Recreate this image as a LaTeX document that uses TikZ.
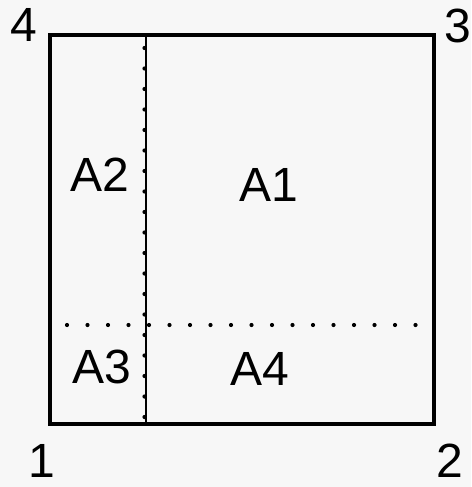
\documentclass[tikz,border=0pt]{standalone}
\usepackage{fontspec}
\setmainfont{Liberation Sans}
\begin{document}
\begin{tikzpicture}[x=1pt,y=-1pt,
  lbl/.style={inner sep=0pt,font=\fontsize{48}{50}\selectfont},
  frame/.style={line width=3.4pt},
  dotline/.style={line width=4.2pt,line cap=round,dash pattern=on 0pt off 20.5pt}]
\useasboundingbox (0,0) rectangle (471,487);
\fill[white!97!black] (0,0) rectangle (471,487);
\coordinate (c4) at (50,35);
\coordinate (c3) at (434,35);
\coordinate (c2) at (434,424);
\coordinate (c1) at (50,424);
\coordinate (vt) at (146,35);
\coordinate (vb) at (146,424);
\coordinate (hl) at (67,325);
\coordinate (hr) at (416,325);
\coordinate (dt) at (144.5,48);
\coordinate (db) at (144.5,424);
\draw[frame] (c1) -- (c2) -- (c3) -- (c4) -- cycle;
\draw[line width=2.4pt] (vt) -- (vb);
\draw[dotline] (dt) -- (db);
\draw[dotline] (hl) -- (hr);
\node[lbl] (n4) at (24,25) {4};
\node[lbl] (n3) at (458,26) {3};
\node[lbl] (n1) at (42,461) {1};
\node[lbl] (n2) at (450,461) {2};
\node[lbl] (a1) at (269,185) {A1};
\node[lbl] (a2) at (100,175) {A2};
\node[lbl] (a3) at (102,367) {A3};
\node[lbl] (a4) at (260,369) {A4};
\end{tikzpicture}
\end{document}
